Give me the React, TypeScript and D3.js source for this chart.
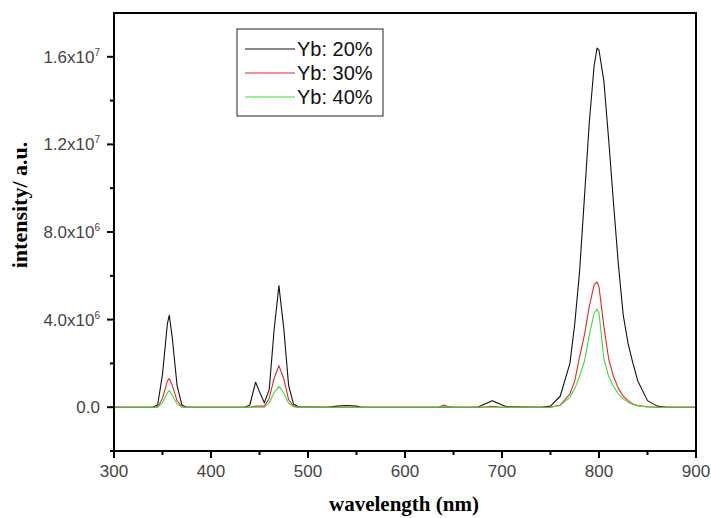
import { scaleLinear, line } from 'd3';

// intensity values are in units of 1e6 (a.u.)
const wavelengths = [
    300, 340, 345, 350, 355, 357, 360, 365, 370, 375, 435, 440, 446, 450, 455, 460, 465, 470,
    475, 480, 485, 490, 520, 530, 540, 550, 555, 630, 635, 640, 645, 650, 675, 680, 690, 700,
    705, 740, 750, 760, 770, 775, 780, 785, 790, 795, 798, 800, 805, 810, 815, 820, 825, 830,
    835, 840, 850, 860, 870, 900,
];
const yb20 = [
    0, 0, 0.1, 1.5, 3.8, 4.2, 3.2, 1.0, 0.1, 0, 0, 0.1, 1.14, 0.7, 0.2, 0.8, 3.5, 5.55,
    3.6, 1.0, 0.15, 0.02, 0, 0.05, 0.08, 0.05, 0, 0, 0, 0.02, 0, 0, 0, 0.1, 0.3, 0.1,
    0.02, 0, 0.05, 0.5, 2.0, 3.8, 6.2, 9.6, 13.0, 15.6, 16.4, 16.3, 14.9, 12.2, 9.3, 6.5, 4.2, 2.9,
    2.0, 1.2, 0.3, 0.05, 0, 0,
];
const yb30 = [
    0, 0, 0, 0.4, 1.2, 1.31, 1.0, 0.3, 0.02, 0, 0, 0, 0.05, 0.05, 0.05, 0.4, 1.3, 1.9,
    1.3, 0.35, 0.05, 0, 0, 0, 0, 0, 0, 0, 0, 0.1, 0.02, 0, 0, 0, 0.04, 0,
    0, 0, 0, 0.1, 0.6, 1.2, 2.3, 3.3, 4.6, 5.6, 5.72, 5.5, 3.7, 2.2, 1.4, 0.85, 0.5, 0.3,
    0.15, 0.08, 0.02, 0, 0, 0,
];
const yb40 = [
    0, 0, 0, 0.2, 0.65, 0.76, 0.55, 0.15, 0, 0, 0, 0, 0, 0, 0, 0.2, 0.65, 0.95,
    0.65, 0.18, 0.02, 0, 0, 0, 0, 0, 0, 0, 0, 0.03, 0, 0, 0, 0, 0, 0,
    0, 0, 0, 0.08, 0.45, 0.85, 1.4, 2.1, 3.3, 4.3, 4.47, 4.3, 2.2, 1.4, 0.95, 0.6, 0.38, 0.22,
    0.12, 0.06, 0.01, 0, 0, 0,
];

const seriesNames = ['Yb: 20%', 'Yb: 30%', 'Yb: 40%'];
const seriesColors = ['#111111', '#e02828', '#3cdc3c'];
const allSeries = [yb20, yb30, yb40];

const xMajor = [300, 400, 500, 600, 700, 800, 900];
const xMinor = [350, 450, 550, 650, 750, 850];
const yMajor = [0, 4, 8, 12, 16];
const yMinor = [-2, 2, 6, 10, 14];
const yTickMain = ['0.0', '4.0x10', '8.0x10', '1.2x10', '1.6x10'];
const yTickExp = ['', '6', '6', '7', '7'];

export default function App() {
    const margin = { top: 13, right: 15, bottom: 67, left: 114 };
    const width = 711;
    const height = 518;

    const x = scaleLinear()
        .domain([300, 900])
        .range([margin.left, width - margin.right]);
    const y = scaleLinear()
        .domain([-2, 18])
        .range([height - margin.bottom, margin.top]);

    const path = line<number>()
        .x((_, i) => x(wavelengths[i]))
        .y((d) => y(d));

    const x0 = x.range()[0];
    const x1 = x.range()[1];
    const y0 = y.range()[0];
    const y1 = y.range()[1];

    return (
        <svg
            width={width}
            height={height}
            style={{ position: 'absolute', left: 0, top: 0, background: '#fff' }}
        >
            {allSeries.map((s, i) => (
                <path
                    key={seriesNames[i]}
                    d={path(s) ?? ''}
                    fill='none'
                    stroke={seriesColors[i]}
                    strokeWidth={1.1}
                    strokeLinejoin='round'
                />
            ))}

            {/* frame */}
            <rect
                x={x0}
                y={y1}
                width={x1 - x0}
                height={y0 - y1}
                fill='none'
                stroke='#000'
                strokeWidth={2}
            />

            {/* x ticks */}
            {xMajor.map((v) => (
                <g key={`xM${v}`}>
                    <line x1={x(v)} x2={x(v)} y1={y0} y2={y0 + 7} stroke='#000' strokeWidth={2} />
                    <text
                        x={x(v)}
                        y={y0 + 26}
                        textAnchor='middle'
                        fill='#444'
                        style={{ fontFamily: 'Liberation Sans, Arial', fontSize: '17px' }}
                    >
                        {v}
                    </text>
                </g>
            ))}
            {xMinor.map((v) => (
                <line key={`xm${v}`} x1={x(v)} x2={x(v)} y1={y0} y2={y0 + 4} stroke='#000' strokeWidth={2} />
            ))}

            {/* y ticks */}
            {yMajor.map((v, i) => (
                <g key={`yM${v}`}>
                    <line x1={x0 - 7} x2={x0} y1={y(v)} y2={y(v)} stroke='#000' strokeWidth={2} />
                    <text
                        x={x0 - 14}
                        y={y(v) + 6}
                        textAnchor='end'
                        fill='#444'
                        style={{ fontFamily: 'Liberation Sans, Arial', fontSize: '17px' }}
                    >
                        {yTickMain[i]}
                        {yTickExp[i] && (
                            <tspan dy={-7} style={{ fontSize: '10px' }}>
                                {yTickExp[i]}
                            </tspan>
                        )}
                    </text>
                </g>
            ))}
            {yMinor.map((v) => (
                <line key={`ym${v}`} x1={x0 - 4} x2={x0} y1={y(v)} y2={y(v)} stroke='#000' strokeWidth={2} />
            ))}

            {/* axis titles */}
            <text
                x={(x0 + x1) / 2 - 1}
                y={511}
                textAnchor='middle'
                style={{ fontFamily: 'Liberation Serif, Times New Roman', fontWeight: 'bold', fontSize: '21px' }}
            >
                wavelength (nm)
            </text>
            <text
                transform={`translate(27, 205) rotate(-90)`}
                textAnchor='middle'
                style={{ fontFamily: 'Liberation Serif, Times New Roman', fontWeight: 'bold', fontSize: '22px' }}
            >
                intensity/ a.u.
            </text>

            {/* legend */}
            <rect x={237} y={29} width={146} height={87} fill='#fff' stroke='#222' strokeWidth={1} />
            {seriesNames.map((name, i) => (
                <g key={`lg${name}`}>
                    <line
                        x1={245}
                        x2={295}
                        y1={49 + i * 24}
                        y2={49 + i * 24}
                        stroke={seriesColors[i]}
                        strokeWidth={1.1}
                    />
                    <text
                        x={297}
                        y={56 + i * 24}
                        fill='#111'
                        style={{ fontFamily: 'Liberation Sans, Arial', fontSize: '20px' }}
                    >
                        {name}
                    </text>
                </g>
            ))}
        </svg>
    );
}
